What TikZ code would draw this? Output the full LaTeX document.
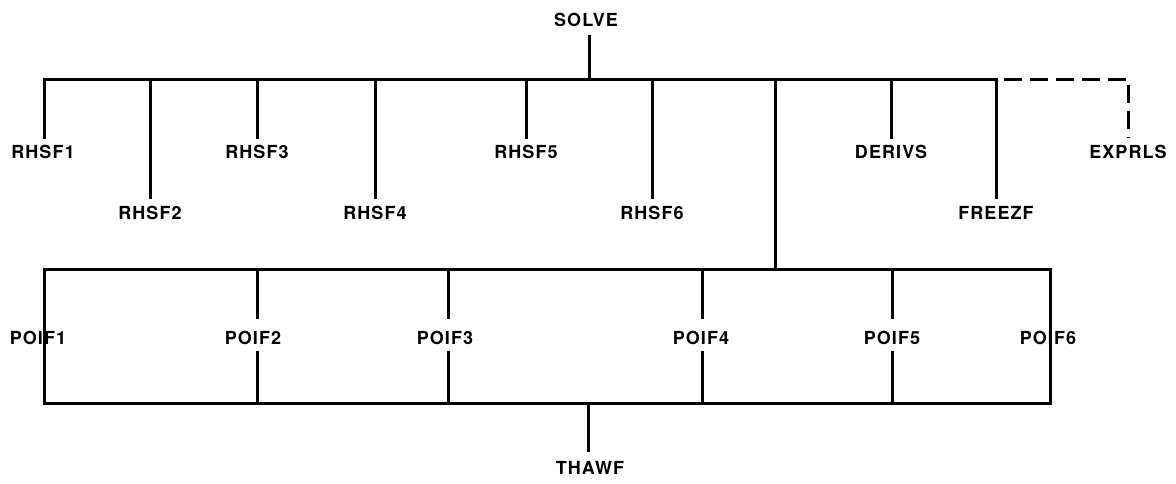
\documentclass[tikz,border=0pt]{standalone}
\usepackage{fontspec}
\setmainfont{TeX Gyre Heros}[LetterSpace=6]
\begin{document}
\begin{tikzpicture}[x=1pt,y=-1pt,
  lbl/.style={font=\fontsize{18}{20}\selectfont\bfseries, inner sep=0pt, text=black},
  wire/.style={line width=3pt, black},
  dashwire/.style={line width=3pt, black, dash pattern=on 18pt off 8pt, dash phase=18pt}]
\useasboundingbox (0,0) rectangle (1176,483);
% labels
\node[lbl] (solve) at (586,20) {SOLVE};
\node[lbl] (r1) at (43,152) {RHSF1};
\node[lbl] (r2) at (150,213) {RHSF2};
\node[lbl] (r3) at (257,152) {RHSF3};
\node[lbl] (r4) at (375,213) {RHSF4};
\node[lbl] (r5) at (526,152) {RHSF5};
\node[lbl] (r6) at (652,213) {RHSF6};
\node[lbl] (der) at (891,152) {DERIVS};
\node[lbl] (frz) at (996,213) {FREEZF};
\node[lbl] (exp) at (1128,152) {EXPRLS};
\node[lbl] (p1) at (38,338) {POIF1};
\node[lbl] (p2) at (253,338) {POIF2};
\node[lbl] (p3) at (445,338) {POIF3};
\node[lbl] (p4) at (701,338) {POIF4};
\node[lbl] (p5) at (892,338) {POIF5};
\node[lbl] (p6) at (1048,338) {POIF6};
\node[lbl] (thaw) at (590,468) {THAWF};
% junctions on top bar
\coordinate (tL) at (44,79);
\coordinate (tS) at (589,79);
\coordinate (t2) at (150,79);
\coordinate (t3) at (257,79);
\coordinate (t4) at (375,79);
\coordinate (t5) at (526,79);
\coordinate (t6) at (652,79);
\coordinate (tC) at (775,79);
\coordinate (tD) at (891,79);
\coordinate (tR) at (996,79);
\coordinate (tE) at (1128,79);
% lower frame
\coordinate (fTL) at (44,269);
\coordinate (fBR) at (1050,403);
\coordinate (fC) at (775,269);
\coordinate (fT) at (588,403);
\coordinate (q1) at (44,269);  \coordinate (b1) at (44,403);
\coordinate (q2) at (257,269); \coordinate (b2) at (257,403);
\coordinate (q3) at (448,269); \coordinate (b3) at (448,403);
\coordinate (q4) at (702,269); \coordinate (b4) at (702,403);
\coordinate (q5) at (892,269); \coordinate (b5) at (892,403);
\coordinate (q6) at (1050,269);\coordinate (b6) at (1050,403);
% top structure
\draw[wire] (tS |- solve.south) ++(0,8) -- (tS);
\draw[wire, line cap=rect] (tL) -- (tR);
\draw[wire, shorten >=6pt] (tL) -- (tL |- r1.north);
\draw[wire, shorten >=7pt] (t2) -- (t2 |- r2.north);
\draw[wire, shorten >=6pt] (t3) -- (t3 |- r3.north);
\draw[wire, shorten >=7pt] (t4) -- (t4 |- r4.north);
\draw[wire, shorten >=6pt] (t5) -- (t5 |- r5.north);
\draw[wire, shorten >=7pt] (t6) -- (t6 |- r6.north);
\draw[wire, shorten >=6pt] (tD) -- (tD |- der.north);
\draw[wire, shorten >=7pt] (tR) -- (tR |- frz.north);
\draw[dashwire, shorten >=8pt] (tR) -- (tE) -- (tE |- exp.north);
\draw[wire] (tC) -- (fC);
% lower frame
\draw[wire, line join=miter] (fTL) rectangle (fBR);
\draw[wire, shorten >=12pt] (q1) -- (q1 |- p1.north);
\draw[wire, shorten >=6pt] (b1) -- (b1 |- p1.south);
\draw[wire, shorten >=12pt] (q2) -- (q2 |- p2.north);
\draw[wire, shorten >=6pt] (b2) -- (b2 |- p2.south);
\draw[wire, shorten >=12pt] (q3) -- (q3 |- p3.north);
\draw[wire, shorten >=6pt] (b3) -- (b3 |- p3.south);
\draw[wire, shorten >=12pt] (q4) -- (q4 |- p4.north);
\draw[wire, shorten >=6pt] (b4) -- (b4 |- p4.south);
\draw[wire, shorten >=12pt] (q5) -- (q5 |- p5.north);
\draw[wire, shorten >=6pt] (b5) -- (b5 |- p5.south);
\draw[wire, shorten >=12pt] (q6) -- (q6 |- p6.north);
\draw[wire, shorten >=6pt] (b6) -- (b6 |- p6.south);
\draw[wire, shorten >=9pt] (fT) -- (fT |- thaw.north);
\end{tikzpicture}
\end{document}
